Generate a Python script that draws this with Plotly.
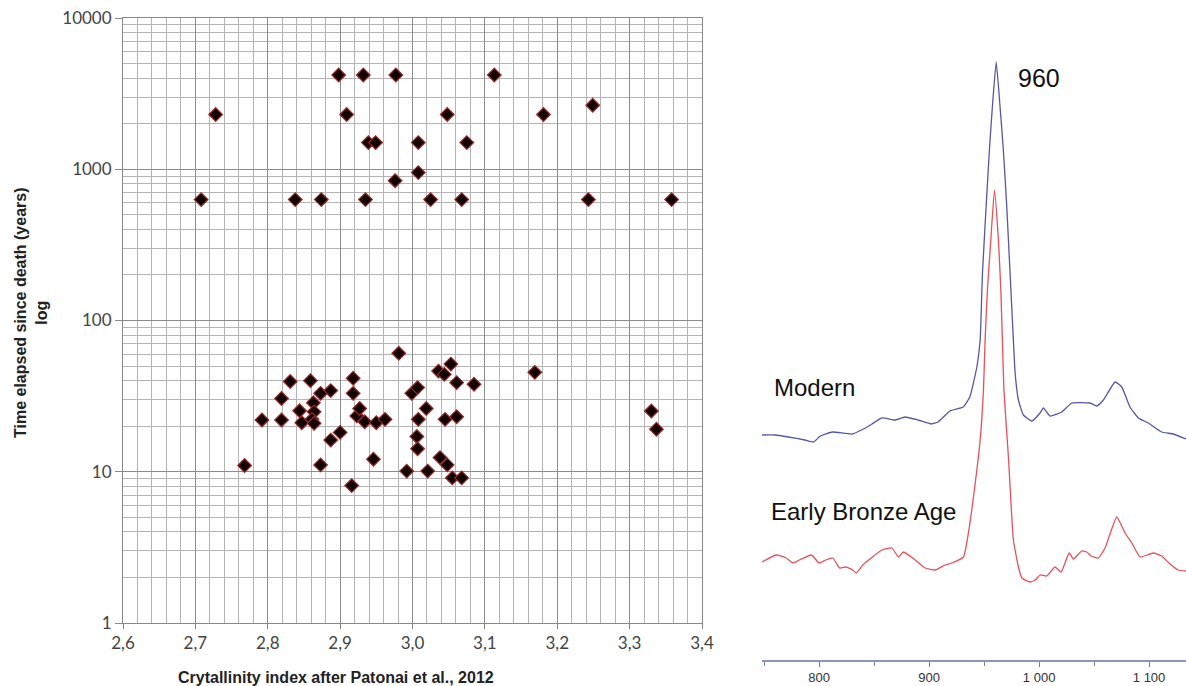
import plotly.graph_objects as go

# ---------------- Scatter data (left panel) ----------------
crystallinity = [
    # upper group
    2.708, 2.728, 2.838, 2.874, 2.898, 2.909, 2.932, 2.935, 2.939, 2.949,
    2.977, 2.976, 3.008, 3.008, 3.025, 3.048, 3.068, 3.075, 3.113, 3.181,
    3.243, 3.249, 3.358,
    # lower group
    2.768, 2.792, 2.819, 2.819, 2.831, 2.844, 2.847, 2.859, 2.863, 2.864,
    2.861, 2.864, 2.873, 2.887, 2.873, 2.887, 2.900, 2.916, 2.918, 2.918,
    2.923, 2.927, 2.934, 2.950, 2.962, 2.946,
    2.981, 2.992, 2.999, 3.007, 3.008, 3.019, 3.006, 3.007, 3.021, 3.036,
    3.044, 3.053, 3.061, 3.085, 3.045, 3.061, 3.038, 3.048, 3.055, 3.068,
    3.169, 3.330, 3.337,
]
years = [
    630, 2300, 630, 630, 4200, 2300, 4200, 630, 1500, 1500,
    4200, 840, 950, 1500, 630, 2300, 630, 1500, 4200, 2300,
    630, 2650, 630,
    11, 22, 22, 30.5, 39.5, 25.3, 21.1, 40, 28.6, 24.9,
    22.2, 20.9, 33, 34.4, 11.1, 16.2, 18.2, 8.1, 41.5, 33,
    23.4, 26.2, 21.4, 21.1, 22.2, 12.1,
    60.7, 10.1, 33, 36, 22.2, 26.2, 17.1, 14.2, 10.1, 46.3,
    44, 51.5, 38.8, 37.9, 22.2, 23.1, 12.4, 11.1, 9.1, 9.1,
    45.4, 25.2, 19.1,
]
x_ticks = [2.6, 2.7, 2.8, 2.9, 3.0, 3.1, 3.2, 3.3, 3.4]
y_ticks = [1, 10, 100, 1000, 10000]
y_ticktext = ["1", "10", "100", "1000", "10000"]

# ---------------- Raman spectra (right panel) ----------------
modern_wn = [748, 760, 772, 787, 795, 801, 812, 830, 842, 848, 857, 869, 878, 890,
             902, 908, 919, 931, 937, 943.4, 946.4, 948.5, 951.8, 954.8, 957.5, 961,
             964.5, 967.5, 970.6, 973.6, 976.6, 978.2, 981.2, 985.7, 993.4, 1000.9,
             1003.9, 1010, 1020.6, 1029.7, 1046.4, 1052.5, 1058.5, 1069.1, 1075.2,
             1082.7, 1090.3, 1099.4, 1111.5, 1122.1, 1133.6]
modern_int = [225, 225, 223, 220, 218, 224, 228, 226, 232, 236, 242, 240, 243, 240,
              236, 238, 249, 253, 263, 293, 320, 387, 453, 510, 553, 598,
              553, 510, 453, 387, 320, 287, 260, 245, 239, 247,
              252, 244, 248, 257, 257, 254, 260, 278, 273,
              253, 242, 237, 228, 226, 221]

eba_wn = [748, 761, 770, 776, 782, 793, 800, 806, 812.5, 818.5, 824.5, 830.6, 833.6,
          839.7, 847.3, 857, 866.1, 872.1, 876.6, 887.3, 896.4, 905.5, 914.5, 920.6,
          931.2, 935.7, 940.3, 946.4, 949.4, 950.9, 953, 956.1, 959.4, 963, 965.2,
          966.6, 968, 972.1, 976.6, 981.2, 984.3, 991.8, 996.4, 1000.9, 1007, 1014.5,
          1020, 1027.3, 1031.2, 1038.8, 1043.4, 1047.3, 1053.9, 1060, 1070.6, 1078.2,
          1084.3, 1091.8, 1103.9, 1111.5, 1119.1, 1126.6, 1133.6]
eba_int = [98, 105, 102, 97, 100, 105, 97, 100, 102, 92, 93, 90, 87,
           95, 102, 110, 112, 103, 108, 100, 92, 90, 95, 97,
           103, 127, 163, 220, 270, 320, 370, 420, 470, 420, 370,
           320, 270, 203, 120, 93, 82, 78, 80, 85, 84, 93,
           88, 107, 101, 109, 108, 104, 102, 112, 143, 127,
           117, 103, 107, 104, 96, 90, 89]
spec_ticks = [800, 900, 1000, 1100]

W, H = 1186, 686

fig = go.Figure()

fig.add_trace(go.Scatter(
    x=crystallinity, y=years, mode="markers", xaxis="x", yaxis="y",
    marker=dict(symbol="diamond", size=10.5, color="#120000",
                line=dict(color="#9a2a2a", width=1.2)),
    showlegend=False, hoverinfo="x+y"))

fig.add_trace(go.Scatter(
    x=modern_wn, y=modern_int, mode="lines", xaxis="x2", yaxis="y2",
    line=dict(color="#5558a6", width=1.3, shape="spline", smoothing=0.4),
    showlegend=False))
fig.add_trace(go.Scatter(
    x=eba_wn, y=eba_int, mode="lines", xaxis="x2", yaxis="y2",
    line=dict(color="#e8505a", width=1.3, shape="spline", smoothing=0.4),
    showlegend=False))

grid_minor = "#b4b4b4"
grid_major = "#8c8c8c"

fig.update_layout(
    template="none",
    width=W, height=H,
    margin=dict(l=0, r=0, t=0, b=0, autoexpand=False),
    paper_bgcolor="white", plot_bgcolor="white",
    separators=", ",
    font=dict(family="Liberation Sans, Arial, sans-serif", color="#222"),
    xaxis=dict(
        domain=[123 / W, 702 / W], range=[2.6, 3.4], automargin=False,
        tickvals=x_ticks, tickformat=".1f",
        showgrid=True, gridcolor=grid_major, gridwidth=1,
        minor=dict(dtick=0.02, tick0=2.6, showgrid=True, gridcolor=grid_minor, gridwidth=1),
        ticks="outside", ticklen=5, tickcolor="#888",
        showline=True, linecolor="#888", mirror=True,
        tickfont=dict(family="Lato, Open Sans, sans-serif", size=17, color="#444"),
        zeroline=False, anchor="y",
    ),
    yaxis=dict(
        domain=[1 - 623 / H, 1 - 18 / H], type="log", range=[0, 4], automargin=False,
        tickvals=y_ticks, ticktext=y_ticktext,
        showgrid=True, gridcolor=grid_major, gridwidth=1,
        minor=dict(dtick="D1", showgrid=True, gridcolor=grid_minor, gridwidth=1),
        ticks="outside", ticklen=7, tickcolor="#888",
        showline=True, linecolor="#888", mirror=True,
        tickfont=dict(family="Lato, Open Sans, sans-serif", size=17, color="#444"),
        zeroline=False, anchor="x",
    ),
    xaxis2=dict(
        domain=[762 / W, 1.0], range=[748, 1133.6], automargin=False,
        tickvals=spec_ticks, separatethousands=True,
        showgrid=False, zeroline=False,
        ticks="outside", ticklen=5, tickcolor="#6f7f9f",
        minor=dict(dtick=50, tick0=750, ticks="outside", ticklen=4, tickcolor="#6f7f9f"),
        showline=True, linecolor="#8a98b8", linewidth=1.5,
        tickfont=dict(family="Liberation Sans, Arial, sans-serif", size=13, color="#333"),
        anchor="y2",
    ),
    yaxis2=dict(
        domain=[1 - 660 / H, 1 - 40 / H], range=[0, 620], automargin=False,
        visible=False, anchor="x2",
    ),
    annotations=[
        dict(text="<b>Crytallinity index after Patonai et al., 2012</b>",
             xref="paper", yref="paper", x=336 / W, y=1 - 677 / H,
             xanchor="center", yanchor="middle", showarrow=False,
             font=dict(family="Liberation Sans, Arial, sans-serif", size=16, color="#222")),
        dict(text="<b>Time elapsed since death (years)<br>log</b>",
             xref="paper", yref="paper", x=31 / W, y=1 - 313 / H,
             xanchor="center", yanchor="middle", showarrow=False, textangle=-90,
             font=dict(family="Liberation Sans, Arial, sans-serif", size=16, color="#222")),
        dict(text="960", xref="paper", yref="paper", x=1016 / W, y=1 - 78 / H,
             xanchor="left", yanchor="middle", showarrow=False,
             font=dict(family="Liberation Sans, Arial, sans-serif", size=25, color="#111")),
        dict(text="Modern", xref="paper", yref="paper", x=772 / W, y=1 - 387 / H,
             xanchor="left", yanchor="middle", showarrow=False,
             font=dict(family="Liberation Sans, Arial, sans-serif", size=24, color="#111")),
        dict(text="Early Bronze Age", xref="paper", yref="paper", x=769 / W, y=1 - 511 / H,
             xanchor="left", yanchor="middle", showarrow=False,
             font=dict(family="Liberation Sans, Arial, sans-serif", size=24, color="#111")),
    ],
)

fig.write_html(
    "out.html",
    config={"displayModeBar": False},
    post_script="document.body.style.margin='0';document.body.style.overflow='hidden';",
)
